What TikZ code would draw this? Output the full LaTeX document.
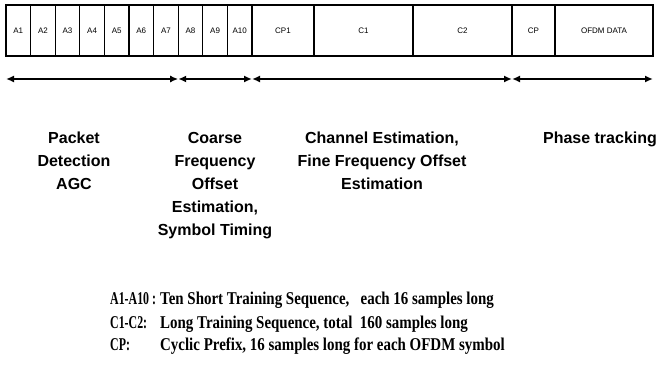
\documentclass[tikz,border=0pt]{standalone}
\usepackage{fontspec}
\setmainfont{Liberation Sans}
\newfontfamily\notefont[FakeStretch=0.83]{Liberation Serif}
\newfontfamily\keyfont[FakeStretch=0.66]{Liberation Serif}
\usetikzlibrary{arrows.meta}

\begin{document}
\begin{tikzpicture}[x=1pt,y=-1pt,
	cell/.style={draw,line width=1.2pt,minimum height=51pt,inner sep=0pt,
		outer sep=0pt,anchor=west,font=\fontsize{8}{9}\selectfont},
	span/.style={{Latex[length=8pt,width=7pt]}-{Latex[length=8pt,width=7pt]},
		line width=1.6pt},
	task/.style={align=center,anchor=north,inner sep=0pt,
		font=\fontsize{16}{23}\selectfont\bfseries},
	key/.style={anchor=base west,inner sep=0pt,
		font=\keyfont\fontsize{18}{20}\selectfont\bfseries},
	note/.style={anchor=base west,inner sep=0pt,
		font=\notefont\fontsize{18}{20}\selectfont\bfseries}]
\useasboundingbox (0,0) rectangle (659,390);
% preamble frame
\foreach \i in {1,...,10}
	\node[cell,minimum width=24.6pt] (a\i) at ({6+24.6*(\i-1)},30.5) {A\i};
\node[cell,minimum width=62pt] (cp1) at (a10.east) {CP1};
\node[cell,minimum width=99pt] (c1) at (cp1.east) {C1};
\node[cell,minimum width=99pt] (c2) at (c1.east) {C2};
\node[cell,minimum width=43pt] (cp) at (c2.east) {CP};
\node[cell,minimum width=98pt] (data) at (cp.east) {OFDM DATA};
% spans under the frame
\coordinate (t0) at ([yshift=-23pt]a1.south west);
\coordinate (t1) at ([yshift=-23pt]a7.south east);
\coordinate (t2) at ([yshift=-23pt]a10.south east);
\coordinate (t3) at ([yshift=-23pt]c2.south east);
\coordinate (t4) at ([yshift=-23pt]data.south east);
\draw[span] (t0) -- (t1);
\draw[span] (t1) -- (t2);
\draw[span] (t2) -- (t3);
\draw[span] (t3) -- (t4);
% what each part is used for
\node[task] (agc) at (74,132) {Packet\\Detection\\AGC};
\node[task] (coarse) at (215,132) {Coarse\\Frequency\\Offset\\Estimation,\\Symbol Timing};
\node[task] (chan) at (382,132) {Channel Estimation,\\Fine Frequency Offset\\Estimation};
\node[task] (phase) at (600,132) {Phase tracking};
% legend
\node[key] (k1) at (110,305) {A1-A10 :};
\node[key] (k2) at (110,328) {C1-C2:};
\node[key] (k3) at (110,350) {CP:};
\node[note] (v1) at (160,305) {Ten Short Training Sequence,\ \ \ each 16 samples long};
\node[note] (v2) at (160,328) {Long Training Sequence, total\ \ 160 samples long};
\node[note] (v3) at (160,350) {Cyclic Prefix, 16 samples long for each OFDM symbol};
\end{tikzpicture}
\end{document}
